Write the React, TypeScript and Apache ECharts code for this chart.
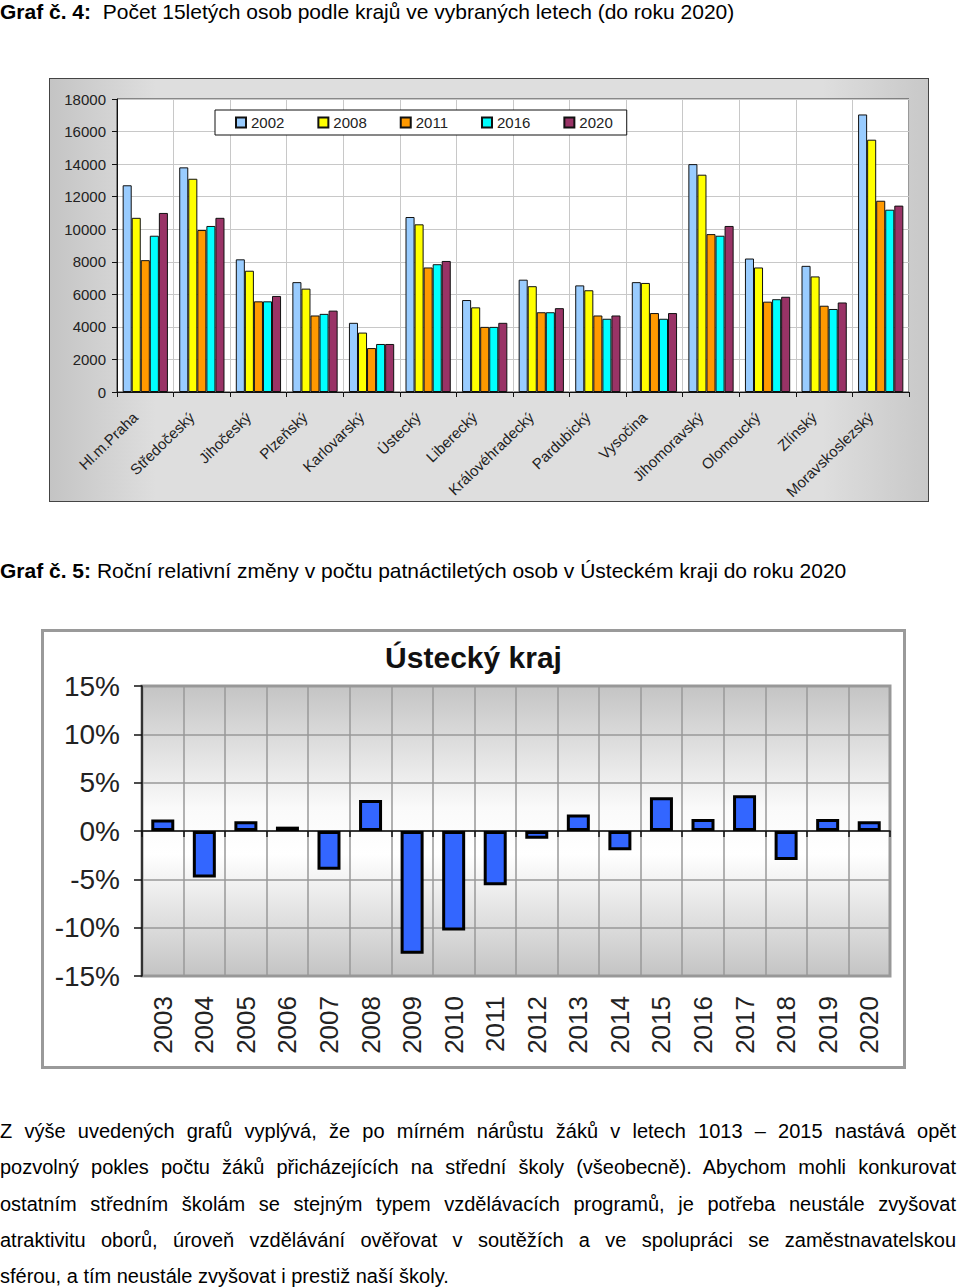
import React, { useEffect, useRef } from "react";
import * as echarts from "echarts";

const regions = [
  "Hl.m.Praha", "Středočeský", "Jihočeský", "Plzeňský", "Karlovarský", "Ústecký", "Liberecký",
  "Královéhradecký", "Pardubický", "Vysočina", "Jihomoravský", "Olomoucký", "Zlínský", "Moravskoslezský",
];
const years1 = ["2002", "2008", "2011", "2016", "2020"];
const v2002 = [12700, 13800, 8150, 6750, 4250, 10750, 5650, 6900, 6550, 6750, 14000, 8200, 7750, 17050];
const v2008 = [10700, 13100, 7450, 6350, 3650, 10300, 5200, 6500, 6250, 6700, 13350, 7650, 7100, 15500];
const v2011 = [8100, 9950, 5570, 4700, 2700, 7650, 4000, 4900, 4700, 4850, 9700, 5550, 5300, 11750];
const v2016 = [9600, 10200, 5570, 4800, 2950, 7850, 4000, 4900, 4500, 4500, 9600, 5700, 5100, 11200];
const v2020 = [11000, 10700, 5900, 5000, 2950, 8050, 4250, 5150, 4700, 4850, 10200, 5850, 5500, 11450];
const colors1 = ["#99ccff", "#ffff00", "#ff9900", "#00ffff", "#993366"];
const yTicks1 = [0, 2000, 4000, 6000, 8000, 10000, 12000, 14000, 16000, 18000];

const years2 = [
  "2003", "2004", "2005", "2006", "2007", "2008", "2009", "2010", "2011", "2012",
  "2013", "2014", "2015", "2016", "2017", "2018", "2019", "2020",
];
const changes = [1.2, -4.8, 1.0, 0.45, -4.0, 3.2, -12.7, -10.3, -5.6, -0.8, 1.7, -2.0, 3.5, 1.25, 3.7, -3.0, 1.25, 1.0];
const yTicks2 = [-15, -10, -5, 0, 5, 10, 15];

const heading1Bold = "Graf č. 4:";
const heading1 = "Počet 15letých osob podle krajů ve vybraných letech (do roku 2020)";
const heading2Bold = "Graf č. 5:";
const heading2 = "Roční relativní změny v počtu patnáctiletých osob v Ústeckém kraji do roku 2020";
const chart2Title = "Ústecký kraj";
const paragraphLines = [
  "Z výše uvedených grafů vyplývá, že po mírném nárůstu žáků v letech 1013 – 2015 nastává opět",
  "pozvolný pokles počtu žáků přicházejících na střední školy (všeobecně). Abychom mohli konkurovat",
  "ostatním středním školám se stejným typem vzdělávacích programů, je potřeba neustále zvyšovat",
  "atraktivitu oborů, úroveň vzdělávání ověřovat v\u00a0soutěžích a ve spolupráci se zaměstnavatelskou",
  "sférou, a tím neustále zvyšovat i prestiž naší školy.",
];

const FONT = "'Liberation Sans', Arial, sans-serif";

export default function App() {
  const ref1 = useRef<HTMLDivElement>(null);
  const ref2 = useRef<HTMLDivElement>(null);

  useEffect(() => {
    document.body.style.margin = "0";
    const c1 = echarts.init(ref1.current!, null, { renderer: "svg" });
    const c2 = echarts.init(ref2.current!, null, { renderer: "svg" });
    const series1 = [v2002, v2008, v2011, v2016, v2020].map((d, i) => ({
      name: years1[i],
      type: "bar",
      data: d,
      barGap: "0%",
      barCategoryGap: "20%",
      itemStyle: { color: colors1[i], borderColor: "#111", borderWidth: 1 },
    }));
    c1.setOption({
      animation: false,
      backgroundColor: {
        type: "linear", x: 0, y: 0, x2: 1, y2: 0,
        colorStops: [
          { offset: 0, color: "#c4c4c4" },
          { offset: 0.12, color: "#dedede" },
          { offset: 0.88, color: "#dedede" },
          { offset: 1, color: "#c8c8c8" },
        ],
      },
      textStyle: { fontFamily: FONT },
      legend: {
        data: years1,
        left: 165,
        top: 31,
        width: 414,
        height: 27,
        padding: [5, 14, 5, 20],
        itemGap: 33,
        itemWidth: 10,
        itemHeight: 10,
        icon: "rect",
        backgroundColor: "#fff",
        borderColor: "#111",
        borderWidth: 1,
        textStyle: { fontSize: 15, color: "#222", fontFamily: FONT },
      },
      grid: {
        left: 67, top: 20, right: 19, bottom: 109,
        outerBoundsMode: "none",
        containLabel: false,
        show: true, backgroundColor: "#fff", borderColor: "#333", borderWidth: 1,
      },
      xAxis: {
        type: "category",
        data: regions,
        axisLine: { lineStyle: { color: "#111" } },
        axisTick: { show: true, length: 5, lineStyle: { color: "#111" } },
        splitLine: { show: true, lineStyle: { color: "#c8c8c8", width: 1 } },
        axisLabel: {
          rotate: 44, fontSize: 15, color: "#222", margin: 13, interval: 0, fontFamily: FONT,
          padding: [0, 14, 0, 0],
        },
      },
      yAxis: {
        type: "value",
        min: yTicks1[0],
        max: yTicks1[yTicks1.length - 1],
        interval: 2000,
        axisLine: { show: true, lineStyle: { color: "#111" } },
        axisTick: { show: true, length: 5, lineStyle: { color: "#111" } },
        splitLine: { lineStyle: { color: "#c8c8c8", width: 1 } },
        axisLabel: {
          fontSize: 15, color: "#222", margin: 11, fontFamily: FONT,
          formatter: (v: number) => String(v),
        },
      },
      series: series1,
    });

    c2.setOption({
      animation: false,
      backgroundColor: "#fff",
      textStyle: { fontFamily: FONT },
      title: {
        text: chart2Title,
        left: "center",
        top: 5,
        textStyle: { fontSize: 30, fontWeight: "bold", color: "#111", fontFamily: FONT },
      },
      grid: {
        left: 98, top: 54, right: 13, bottom: 90,
        outerBoundsMode: "none",
        containLabel: false,
        show: true,
        borderColor: "#999",
        borderWidth: 3,
        backgroundColor: {
          type: "linear", x: 0, y: 0, x2: 0, y2: 1,
          colorStops: [
            { offset: 0, color: "#c4c4c4" },
            { offset: 0.42, color: "#fafafa" },
            { offset: 0.58, color: "#ffffff" },
            { offset: 1, color: "#c4c4c4" },
          ],
        },
      },
      xAxis: {
        type: "category",
        data: years2,
        axisLine: { onZero: true, lineStyle: { color: "#111", width: 1.5 } },
        axisTick: { show: true, length: 6, lineStyle: { color: "#111", width: 1.5 } },
        splitLine: { show: true, lineStyle: { color: "#999", width: 1.5 } },
        axisLabel: { rotate: 90, fontSize: 26, color: "#222", margin: 20, interval: 0, fontFamily: FONT },
      },
      yAxis: {
        type: "value",
        min: yTicks2[0],
        max: yTicks2[yTicks2.length - 1],
        interval: 5,
        axisLine: { show: true, lineStyle: { color: "#111", width: 1.5 } },
        axisTick: { show: true, length: 8, lineStyle: { color: "#111", width: 1.5 } },
        splitLine: { lineStyle: { color: "#999", width: 1.5 } },
        axisLabel: { fontSize: 28, color: "#222", margin: 22, formatter: "{value}%", fontFamily: FONT },
      },
      series: [
        {
          type: "bar",
          data: changes,
          barWidth: 23,
          itemStyle: { color: "#3366ff", borderColor: "#000", borderWidth: 3 },
        },
      ],
    });
    return () => {
      c1.dispose();
      c2.dispose();
    };
  }, []);

  const headStyle: React.CSSProperties = {
    position: "absolute", left: 0, fontFamily: FONT, fontSize: 21, color: "#000", whiteSpace: "nowrap", lineHeight: "24px",
  };

  return (
    <div style={{ position: "relative", width: 960, height: 1288, background: "#fff", overflow: "hidden" }}>
      <div style={{ ...headStyle, top: 0 }}>
        <b>{heading1Bold}</b>&nbsp; {heading1}
      </div>
      <div
        style={{
          position: "absolute", left: 49, top: 78, width: 880, height: 424,
          border: "1px solid #444", boxSizing: "border-box",
        }}
      >
        <div ref={ref1} style={{ width: 878, height: 422 }} />
      </div>
      <div style={{ ...headStyle, top: 559 }}>
        <b>{heading2Bold}</b> {heading2}
      </div>
      <div
        style={{
          position: "absolute", left: 41, top: 629, width: 865, height: 440,
          border: "3px solid #9a9a9a", boxSizing: "border-box",
        }}
      >
        <div ref={ref2} style={{ width: 859, height: 434 }} />
      </div>
      {paragraphLines.map((line, i) => (
        <div
          key={i}
          style={{
            position: "absolute", left: 0, top: 1119 + i * 36.3, width: 956,
            fontFamily: FONT, fontSize: 20, lineHeight: "24px", color: "#000",
            textAlign: "justify", textAlignLast: i < paragraphLines.length - 1 ? "justify" : "left",
            whiteSpace: "nowrap",
          }}
        >
          {line}
        </div>
      ))}
    </div>
  );
}
